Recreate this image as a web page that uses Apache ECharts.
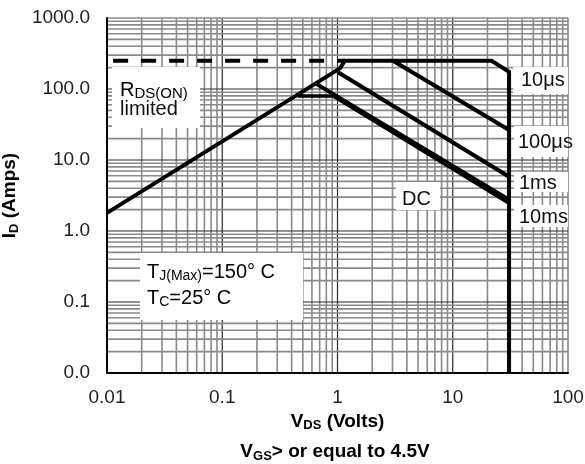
<!DOCTYPE html>
<html>
<head>
<meta charset="utf-8">
<script src="https://cdn.jsdelivr.net/npm/echarts@6/dist/echarts.min.js"></script>
<style>html,body{margin:0;padding:0;background:#fff}#c{width:585px;height:464px}</style>
</head>
<body>
<div id="c"></div>
<script>
// ---- data ----
const xTickValues = [0.01, 0.1, 1, 10, 100];
const xTickLabels = ['0.01', '0.1', '1', '10', '100'];
const yTickValues = [0.01, 0.1, 1, 10, 100, 1000];
const yTickLabels = ['0.0', '0.1', '1.0', '10.0', '100.0', '1000.0'];
const gridMultipliers = [1, 2, 3, 4, 5, 6, 7, 8, 9];

const rdsLimitDashed = [[0.0113, 250], [1.16, 250]];
const curve10us = [[0.01, 1.8], [1.05, 195], [1.16, 250], [21.7, 250], [30.8, 175], [30.8, 0.01]];
const curve100us = [[3.03, 250], [30.8, 26.5]];
const curve1ms = [[1.01, 172], [30.8, 5.8]];
const curve10ms = [[0.66, 117], [30.8, 2.75]];
const curveDC = [[0.45, 80], [0.91, 80], [30.8, 2.45]];

// ---- chart ----
const FONT = 'Liberation Sans, Arial, Helvetica, sans-serif';
const X_MIN = xTickValues[0], X_MAX = xTickValues[xTickValues.length - 1];
const Y_MIN = yTickValues[0], Y_MAX = yTickValues[yTickValues.length - 1];

function isDecade(v) { const l = Math.log10(v); return Math.abs(l - Math.round(l)) < 1e-9; }
function lookup(values, labels, v) {
  const i = values.findIndex(t => Math.abs(Math.log10(t) - Math.log10(v)) < 1e-6);
  return i >= 0 ? labels[i] : '';
}

const vGrid = [];
xTickValues.slice(0, -1).forEach(d => gridMultipliers.forEach(m => vGrid.push([d * m, 1])));
vGrid.push([X_MAX, 1]);
const hGrid = [];
yTickValues.slice(0, -1).forEach(d => gridMultipliers.forEach(m => hGrid.push([1, d * m])));
hGrid.push([1, Y_MAX]);

function gridStyle(v, isEdge) {
  const major = isDecade(v) && !isEdge;
  return { stroke: major ? '#2a2a2a' : '#8a8a8a', lineWidth: major ? 1.2 : 1.6 };
}

const chart = echarts.init(document.getElementById('c'), null, { renderer: 'canvas' });

const subRich = (mainSize, size, bold) => ({
  m: { fontSize: mainSize, fontFamily: FONT, fontWeight: bold ? 'bold' : 'normal', lineHeight: 22, color: '#000', fill: '#000' },
  s: { fontSize: size, fontFamily: FONT, fontWeight: bold ? 'bold' : 'normal', lineHeight: 12, verticalAlign: 'bottom', color: '#000', fill: '#000' }
});

const lineSeries = (data, width, extra) => Object.assign({
  type: 'line', data: data, showSymbol: false, symbol: 'none', z: 3, silent: true,
  animation: false,
  lineStyle: { color: '#000', width: width, join: 'miter', cap: 'butt' }
}, extra || {});

function textEl(x, y, text, rich, align) {
  return {
    type: 'text', z: 10, silent: true,
    style: { x: x, y: y, text: text, rich: rich, align: align || 'left', verticalAlign: 'middle',
      fontSize: 20, fontFamily: FONT, fill: '#000' }
  };
}
function rectEl(x, y, w, h) {
  return { type: 'rect', z: 2, silent: true, shape: { x: x, y: y, width: w, height: h }, style: { fill: '#fff' } };
}

const plainRich = { m: { fontSize: 20, fontFamily: FONT, lineHeight: 22, fill: '#111' } };

chart.setOption({
  backgroundColor: '#fff',
  animation: false,
  grid: { left: 107, right: 17, top: 18, bottom: 91, containLabel: false, outerBoundsMode: 'none' },
  xAxis: {
    type: 'log', logBase: 10, min: X_MIN, max: X_MAX, z: 5,
    axisLine: { show: true, onZero: false, lineStyle: { color: '#000', width: 2 } },
    axisTick: { show: false },
    splitLine: { show: false },
    axisLabel: { fontSize: 19, fontFamily: FONT, color: '#222', margin: 15,
      formatter: v => lookup(xTickValues, xTickLabels, v) },
    name: '{m|V}{s|DS}{m| (Volts)}',
    nameLocation: 'middle', nameGap: 27,
    nameTextStyle: { rich: subRich(19, 13, true) }
  },
  yAxis: {
    type: 'log', logBase: 10, min: Y_MIN, max: Y_MAX, z: 5,
    axisLine: { show: true, onZero: false, lineStyle: { color: '#000', width: 2 } },
    axisTick: { show: false },
    splitLine: { show: false },
    axisLabel: { fontSize: 19, fontFamily: FONT, color: '#222', margin: 17,
      formatter: v => lookup(yTickValues, yTickLabels, v) },
    name: '{m|I}{s|D}{m| (Amps)}',
    nameLocation: 'middle', nameGap: 76,
    nameTextStyle: { rich: subRich(19, 13, true) }
  },
  series: [
    {
      type: 'custom', name: 'vgrid', z: 1, silent: true, animation: false, clip: false,
      data: vGrid,
      renderItem: (params, api) => {
        const v = api.value(0);
        const a = api.coord([v, Y_MIN]), b = api.coord([v, Y_MAX]);
        return { type: 'line', shape: { x1: a[0], y1: a[1], x2: b[0], y2: b[1] }, style: gridStyle(v, v === X_MAX) };
      }
    },
    {
      type: 'custom', name: 'hgrid', z: 1, silent: true, animation: false, clip: false,
      data: hGrid,
      renderItem: (params, api) => {
        const v = api.value(1);
        const a = api.coord([X_MIN, v]), b = api.coord([X_MAX, v]);
        return { type: 'line', shape: { x1: a[0], y1: a[1], x2: b[0], y2: b[1] }, style: gridStyle(v, v === Y_MAX) };
      }
    },
    lineSeries(rdsLimitDashed, 4, { lineStyle: { color: '#000', width: 4, type: [15, 13] } }),
    lineSeries(curve10us, 4),
    lineSeries(curve100us, 4),
    lineSeries(curve1ms, 4),
    lineSeries(curve10ms, 4),
    lineSeries(curveDC, 3.5)
  ],
  graphic: [
    rectEl(112, 67, 88, 61),
    rectEl(140, 253, 163, 67),
    rectEl(396, 182, 44, 28),
    rectEl(513, 67, 55, 27),
    rectEl(514, 126, 54, 31),
    rectEl(514, 172, 54, 20),
    rectEl(514, 205, 54, 22),
    textEl(120, 90, '{m|R}{s|DS(ON)}', subRich(20, 15, false)),
    textEl(120, 109, '{m|limited}', plainRich),
    textEl(147, 272, '{m|T}{s|J(Max)}{m|=150° C}', subRich(20, 14, false)),
    textEl(147, 298, '{m|T}{s|C}{m|=25° C}', subRich(20, 14, false)),
    textEl(402, 199, '{m|DC}', plainRich),
    textEl(521, 80, '{m|10μs}', plainRich),
    textEl(518, 142, '{m|100μs}', plainRich),
    textEl(519, 183, '{m|1ms}', plainRich),
    textEl(519, 217, '{m|10ms}', plainRich),
    textEl(335, 452, '{m|V}{s|GS}{m|> or equal to 4.5V}', subRich(19, 13, true), 'center')
  ]
});
</script>
</body>
</html>
